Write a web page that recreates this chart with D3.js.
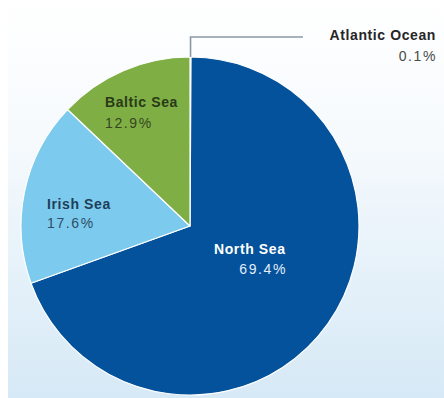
<!DOCTYPE html>
<html>
<head>
<meta charset="utf-8">
<script src="https://cdn.jsdelivr.net/npm/d3@7/dist/d3.min.js"></script>
<style>
  html, body { margin: 0; padding: 0; background: #ffffff; }
  svg { display: block; }
</style>
</head>
<body>
<svg id="chart" width="444" height="398"></svg>
<script>
// Share of catch by sea area (percent)
const categories = ["Atlantic Ocean", "North Sea", "Irish Sea", "Baltic Sea"];
const shares = [0.1, 69.4, 17.6, 12.9];
const shareLabels = ["0.1%", "69.4%", "17.6%", "12.9%"];
const colors = ["#dfe7ee", "#03529b", "#7ccbee", "#7fae45"];

const W = 444, H = 398;
const cx = 190, cy = 226, R = 169;

const svg = d3.select("#chart");

// soft vertical background wash
const defs = svg.append("defs");
const grad = defs.append("linearGradient")
  .attr("id", "bg").attr("x1", 0).attr("y1", 0).attr("x2", 0).attr("y2", 1);
grad.append("stop").attr("offset", "0%").attr("stop-color", "#ffffff");
grad.append("stop").attr("offset", "35%").attr("stop-color", "#f6fafd");
grad.append("stop").attr("offset", "100%").attr("stop-color", "#d6e9f6");
svg.append("rect").attr("x", 8).attr("y", 0).attr("width", W - 8).attr("height", H)
  .attr("fill", "url(#bg)");

const data = categories.map((c, i) => ({ name: c, value: shares[i], label: shareLabels[i], color: colors[i] }));

const pie = d3.pie().value(d => d.value).sort(null);
const arc = d3.arc().innerRadius(0).outerRadius(R);
const arcs = pie(data);

const g = svg.append("g").attr("transform", `translate(${cx},${cy})`);
g.selectAll("path.slice")
  .data(arcs)
  .join("path")
  .attr("class", "slice")
  .attr("d", arc)
  .attr("fill", d => d.data.color)
  .attr("stroke", "#ffffff")
  .attr("stroke-width", 1.2)
  .attr("stroke-linejoin", "round");

// leader line for the tiny Atlantic slice
const atl = arcs[0];
const midA = (atl.startAngle + atl.endAngle) / 2;
const ax = cx + R * Math.sin(midA), ay = cy - R * Math.cos(midA);
svg.append("path")
  .attr("d", `M${ax},${ay} V37 H303`)
  .attr("fill", "none")
  .attr("stroke", "#8d98a4")
  .attr("stroke-width", 1.6);

// label placement per slice
const labelPos = {
  "Atlantic Ocean": { nx: 436, ny: 40, vx: 437, vy: 61, nAnchor: "end", vAnchor: "end", fill: "#262626", vfill: "#4a4a4a" },
  "North Sea": { nx: 214, ny: 254, vx: 287, vy: 274, nAnchor: "start", vAnchor: "end", fill: "#ffffff", vfill: "#e4eef9" },
  "Irish Sea": { nx: 47, ny: 209, vx: 47, vy: 228, nAnchor: "start", vAnchor: "start", fill: "#1f3e58", vfill: "#2f4d66" },
  "Baltic Sea": { nx: 105, ny: 107, vx: 105, vy: 128, nAnchor: "start", vAnchor: "start", fill: "#283a18", vfill: "#34471f" }
};

const labels = svg.append("g").attr("font-family", "Liberation Sans, Arial, sans-serif");
data.forEach(d => {
  const p = labelPos[d.name];
  labels.append("text")
    .attr("x", p.nx).attr("y", p.ny)
    .attr("text-anchor", p.nAnchor)
    .attr("font-size", 14).attr("font-weight", "bold")
    .attr("letter-spacing", 0.6)
    .attr("fill", p.fill)
    .text(d.name);
  labels.append("text")
    .attr("x", p.vx).attr("y", p.vy)
    .attr("text-anchor", p.vAnchor)
    .attr("font-size", 14)
    .attr("letter-spacing", 1.6)
    .attr("fill", p.vfill)
    .text(d.label);
});
</script>
</body>
</html>
